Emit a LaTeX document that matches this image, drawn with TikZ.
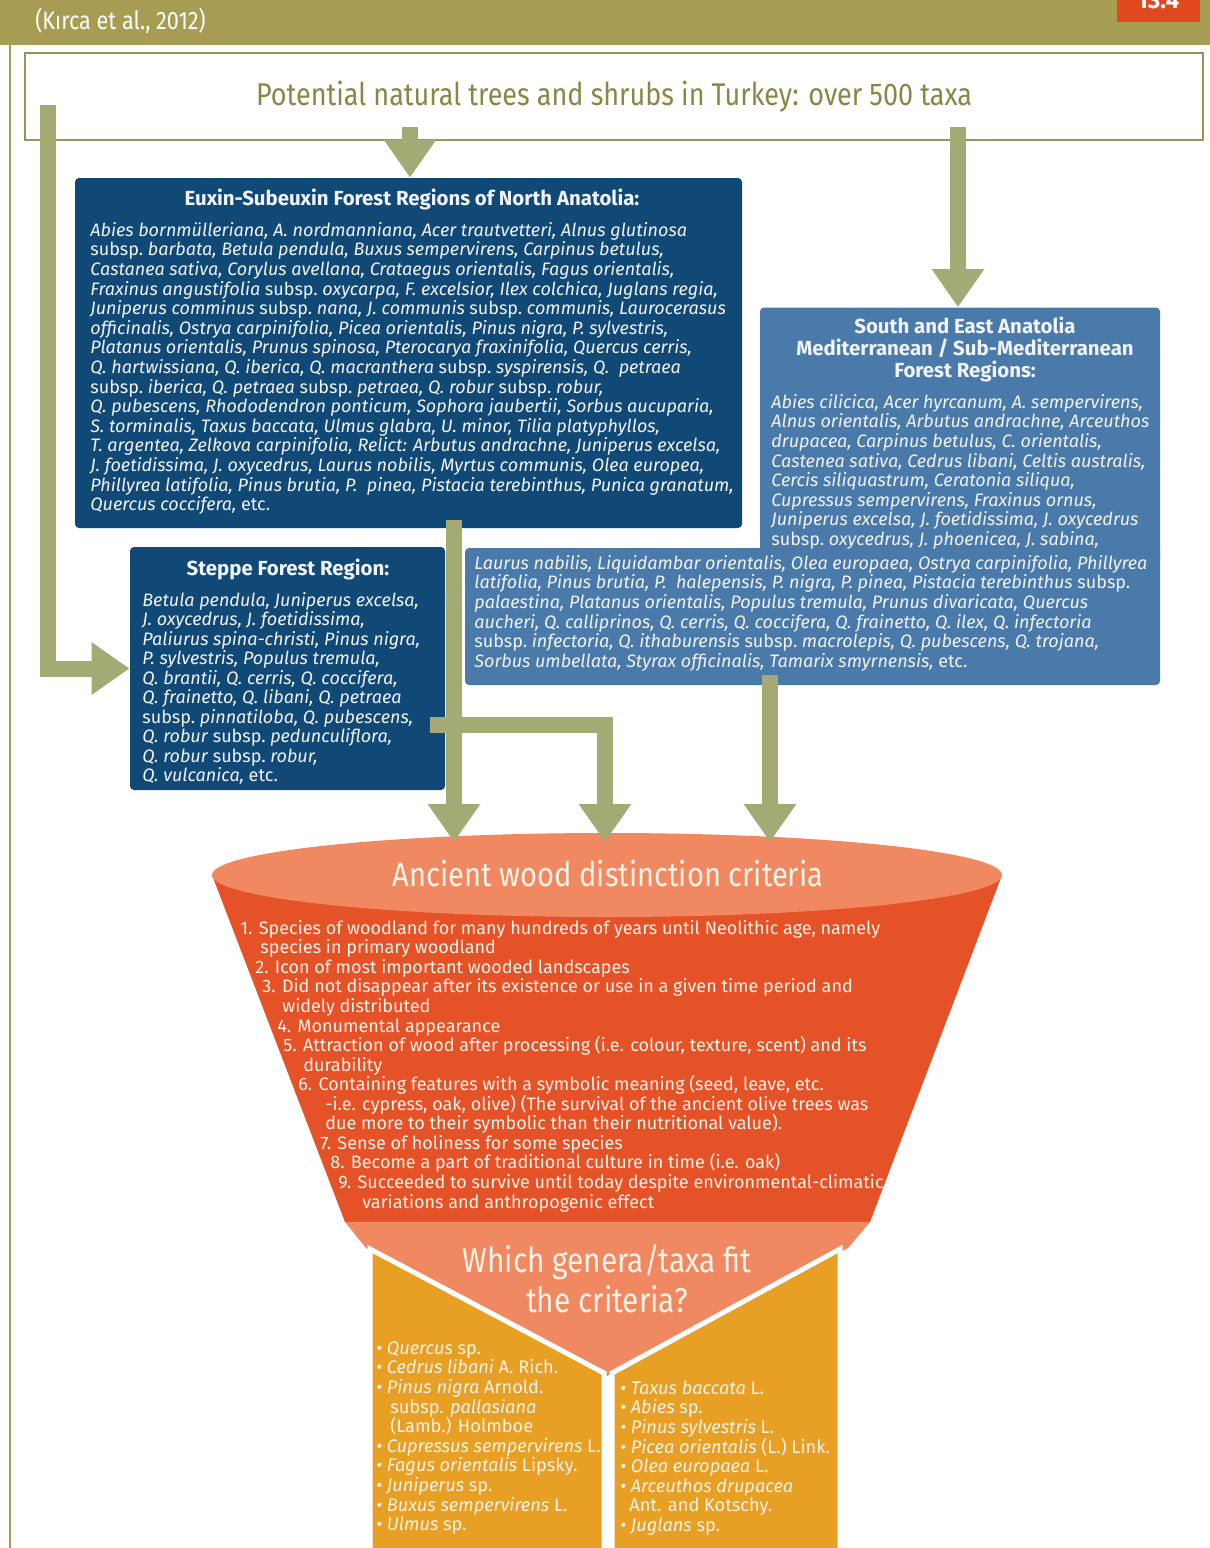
\documentclass[tikz,border=0pt]{standalone}
\usepackage{fontspec}
\setmainfont{Fira Sans}
\newfontfamily\narrowfont{Fira Sans}[FakeStretch=0.86]
\usetikzlibrary{arrows.meta,positioning}

\definecolor{headbar}{RGB}{166,157,82}
\definecolor{redtag}{RGB}{226,72,30}
\definecolor{framecol}{RGB}{150,148,88}
\definecolor{titleolive}{RGB}{138,134,72}
\definecolor{arrowcol}{RGB}{163,170,116}
\definecolor{navy}{RGB}{16,72,118}
\definecolor{steel}{RGB}{74,122,170}
\definecolor{boxtext}{RGB}{240,243,250}
\definecolor{funnelred}{RGB}{230,82,40}
\definecolor{salmon}{RGB}{240,136,98}
\definecolor{amber}{RGB}{231,160,36}
\definecolor{cream}{RGB}{255,242,230}

\newcommand{\ssp}{\textup{subsp.}}
\newcommand{\etcup}{\textup{etc.}}

\begin{document}
\begin{tikzpicture}[x=0.5pt,y=-0.5pt,
  bigarrow/.style={draw=arrowcol,line width=8pt,-{Triangle[width=25pt,length=19pt]}},
  regionbox/.style={fill=#1,rounded corners=2pt,inner sep=0pt},
  boxtitle/.style={text=boxtext,font=\fontsize{10.2}{12}\selectfont\bfseries,anchor=base,inner sep=0pt},
  species/.style={text=boxtext,font=\fontsize{9}{9.8}\selectfont\itshape,anchor=mid west,inner sep=0pt},
  critline/.style={text=cream,font=\fontsize{9}{9.8}\selectfont,anchor=mid west,inner sep=0pt},
  taxon/.style={text=cream,font=\fontsize{9.1}{9.8}\selectfont\itshape,anchor=mid west,inner sep=0pt}]
\useasboundingbox (0,0) rectangle (1210,1548);

% header
\fill[headbar] (0,0) rectangle (1210,45);
\node[text=white,font=\narrowfont\fontsize{12.6}{14}\selectfont,anchor=base west,inner sep=0pt] (source) at (35,29) {(Kırca et al., 2012)};
\fill[redtag] (1117,0) rectangle (1200,22);
\node[text=white,font=\fontsize{12}{14}\selectfont\bfseries,anchor=base,inner sep=0pt] (tag) at (1158,8) {13.4};
\draw[headbar,line width=0.8pt] (10,45) -- (10,1548);

% pool of taxa
\node[draw=framecol,line width=1.3pt,fill=white,minimum width=589pt,minimum height=43.5pt,inner sep=0pt,
  text=titleolive,font=\narrowfont\fontsize{15.7}{18}\selectfont] (pool) at (614,96.5)
  {Potential natural trees and shrubs in Turkey: over 500 taxa};

% regions
\node[regionbox=navy,minimum width=333.5pt,minimum height=175pt] (euxin) at (408.5,353) {};
\node[boxtitle] (euxintitle) at (412,205) {Euxin-Subeuxin Forest Regions of North Anatolia:};
\foreach \txt [count=\i] in {
  {Abies bornmülleriana, A. nordmanniana, Acer trautvetteri, Alnus glutinosa},
  {\ssp\ barbata, Betula pendula, Buxus sempervirens, Carpinus betulus,},
  {Castanea sativa, Corylus avellana, Crataegus orientalis, Fagus orientalis,},
  {Fraxinus angustifolia \ssp\ oxycarpa, F. excelsior, Ilex colchica, Juglans regia,},
  {Juniperus comminus \ssp\ nana, J. communis \ssp\ communis, Laurocerasus},
  {officinalis, Ostrya carpinifolia, Picea orientalis, Pinus nigra, P. sylvestris,},
  {Platanus orientalis, Prunus spinosa, Pterocarya fraxinifolia, Quercus cerris,},
  {Q. hartwissiana, Q. iberica, Q. macranthera \ssp\ syspirensis, Q.~ petraea},
  {\ssp\ iberica, Q. petraea \ssp\ petraea, Q. robur \ssp\ robur,},
  {Q. pubescens, Rhododendron ponticum, Sophora jaubertii, Sorbus aucuparia,},
  {S. torminalis, Taxus baccata, Ulmus glabra, U. minor, Tilia platyphyllos,},
  {T. argentea, Zelkova carpinifolia, Relict: Arbutus andrachne, Juniperus excelsa,},
  {J. foetidissima, J. oxycedrus, Laurus nobilis, Myrtus communis, Olea europea,},
  {Phillyrea latifolia, Pinus brutia, P.~ pinea, Pistacia terebinthus, Punica granatum,},
  {Quercus coccifera, \etcup}}
  \node[species] (eux\i) at (90,211.4+19.6*\i) {\txt};

\node[regionbox=navy,minimum width=157.5pt,minimum height=121.5pt] (steppe) at (287.5,668.5) {};
\node[boxtitle] (steppetitle) at (288,575) {Steppe Forest Region:};
\foreach \txt [count=\i] in {
  {Betula pendula, Juniperus excelsa,},
  {J. oxycedrus, J. foetidissima,},
  {Paliurus spina-christi, Pinus nigra,},
  {P. sylvestris, Populus tremula,},
  {Q. brantii, Q. cerris, Q. coccifera,},
  {Q. frainetto, Q. libani, Q. petraea},
  {\ssp\ pinnatiloba, Q. pubescens,},
  {Q. robur \ssp\ pedunculiflora,},
  {Q. robur \ssp\ robur,},
  {Q. vulcanica, \etcup}}
  \node[species] (step\i) at (142,581.5+19.5*\i) {\txt};

\node[regionbox=steel,minimum width=200pt,minimum height=127pt] (southtop) at (960,434.5) {};
\node[regionbox=steel,minimum width=347.5pt,minimum height=68.5pt] (southlow) at (812.5,616.5) {};
\foreach \txt [count=\i] in {South and East Anatolia, Mediterranean / Sub-Mediterranean, Forest Regions:}
  \node[boxtitle] (southtitle\i) at (965,311+22*\i) {\txt};
\foreach \txt [count=\i] in {
  {Abies cilicica, Acer hyrcanum, A. sempervirens,},
  {Alnus orientalis, Arbutus andrachne, Arceuthos},
  {drupacea, Carpinus betulus, C. orientalis,},
  {Castenea sativa, Cedrus libani, Celtis australis,},
  {Cercis siliquastrum, Ceratonia siliqua,},
  {Cupressus sempervirens, Fraxinus ornus,},
  {Juniperus excelsa, J. foetidissima, J. oxycedrus},
  {\ssp\ oxycedrus, J. phoenicea, J. sabina,}}
  \node[species] (south\i) at (771,383.4+19.6*\i) {\txt};
\foreach \txt [count=\i] in {
  {Laurus nabilis, Liquidambar orientalis, Olea europaea, Ostrya carpinifolia, Phillyrea},
  {latifolia, Pinus brutia, P.~ halepensis, P. nigra, P. pinea, Pistacia terebinthus \ssp},
  {palaestina, Platanus orientalis, Populus tremula, Prunus divaricata, Quercus},
  {aucheri, Q. calliprinos, Q. cerris, Q. coccifera, Q. frainetto, Q. ilex, Q. infectoria},
  {\ssp\ infectoria, Q. ithaburensis \ssp\ macrolepis, Q. pubescens, Q. trojana,},
  {Sorbus umbellata, Styrax officinalis, Tamarix smyrnensis, \etcup}}
  \node[species] (southl\i) at (474,544.4+19.6*\i) {\txt};

% funnel of criteria
\fill[funnelred] (212,875) -- (345,1222) -- (870,1222) -- (1002,875) -- cycle;
\fill[salmon] (607,875) ellipse [x radius=197.5pt,y radius=21pt];
\node[text=cream,font=\narrowfont\fontsize{16.9}{20}\selectfont,anchor=base,inner sep=0pt] (crit) at (608,886) {Ancient wood distinction criteria};
\foreach \xx/\txt [count=\i] in {
  240/{1. Species of woodland for many hundreds of years until Neolithic age, namely},
  260/{species in primary woodland},
  255/{2. Icon of most important wooded landscapes},
  262/{3. Did not disappear after its existence or use in a given time period and},
  282/{widely distributed},
  277/{4. Monumental appearance},
  283/{5. Attraction of wood after processing (i.e. colour, texture, scent) and its},
  303/{durability},
  298/{6. Containing features with a symbolic meaning (seed, leave, etc.},
  325/{-i.e. cypress, oak, olive) (The survival of the ancient olive trees was},
  325/{due more to their symbolic than their nutritional value).},
  320/{7. Sense of holiness for some species},
  330/{8. Become a part of traditional culture in time (i.e. oak)},
  338/{9. Succeeded to survive until today despite environmental-climatic},
  362/{variations and anthropogenic effect}}
  \node[critline] (crit\i) at (\xx,909.5+19.55*\i) {\txt};

% which taxa
\fill[salmon] (345,1222) -- (870,1222) -- (848,1248) -- (607,1376) -- (366,1248) -- cycle;
\filldraw[fill=amber,draw=white,line width=2.5pt] (370,1249) -- (604,1373) -- (604,1570) -- (370,1570) -- cycle;
\filldraw[fill=amber,draw=white,line width=2.5pt] (612,1373) -- (840,1249) -- (840,1570) -- (612,1570) -- cycle;
\node[text=cream,font=\narrowfont\fontsize{17.3}{20}\selectfont,anchor=base,inner sep=0pt] (which) at (607,1272)
  {Which genera/taxa fit};
\node[text=cream,font=\narrowfont\fontsize{17.3}{20}\selectfont,anchor=base,inner sep=0pt] (which2) at (607,1312)
  {the criteria?};
\foreach \xx/\txt [count=\i] in {
  376/{\textbullet\ Quercus \textup{sp.}},
  376/{\textbullet\ Cedrus libani \textup{A. Rich.}},
  376/{\textbullet\ Pinus nigra \textup{Arnold.}},
  390/{\textup{subsp.} pallasiana},
  390/{\textup{(Lamb.) Holmboe}},
  376/{\textbullet\ Cupressus sempervirens \textup{L.}},
  376/{\textbullet\ Fagus orientalis \textup{Lipsky.}},
  376/{\textbullet\ Juniperus \textup{sp.}},
  376/{\textbullet\ Buxus sempervirens \textup{L.}},
  376/{\textbullet\ Ulmus \textup{sp.}}}
  \node[taxon] (left\i) at (\xx,1329.4+19.6*\i) {\txt};
\foreach \xx/\txt [count=\i] in {
  620/{\textbullet\ Taxus baccata \textup{L.}},
  620/{\textbullet\ Abies \textup{sp.}},
  620/{\textbullet\ Pinus sylvestris \textup{L.}},
  620/{\textbullet\ Picea orientalis \textup{(L.) Link.}},
  620/{\textbullet\ Olea europaea \textup{L.}},
  620/{\textbullet\ Arceuthos drupacea},
  629/{\textup{Ant. and Kotschy.}},
  620/{\textbullet\ Juglans \textup{sp.}}}
  \node[taxon] (right\i) at (\xx,1369.4+19.6*\i) {\txt};

% connectors
\coordinate (toeux) at (410,127);
\coordinate (tosouth) at (958,127);
\coordinate (tosteppe) at (48,105);
\coordinate (rim1) at (454,842);
\coordinate (rim2) at (605,842);
\coordinate (rim3) at (770,842);
\coordinate (fork) at (430,725);
\draw[bigarrow] (toeux) -- (toeux |- euxin.north);
\draw[bigarrow] (tosouth) -- (tosouth |- southtop.north);
\draw[bigarrow] (tosteppe) |- (steppe.west);
\draw[bigarrow] ([yshift=4pt]euxin.south -| rim1) -- (rim1);
\draw[bigarrow] (fork) -| (rim2);
\draw[bigarrow] ([yshift=5pt]southlow.south -| rim3) -- (rim3);
\end{tikzpicture}
\end{document}
